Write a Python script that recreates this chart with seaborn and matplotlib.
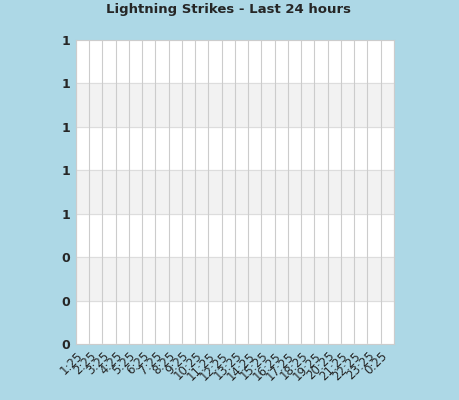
import numpy as np
import pandas as pd
import matplotlib
matplotlib.use('Agg')
import matplotlib.pyplot as plt
import seaborn as sns

# Hour labels and strike counts (no strikes in the last 24 hours)
hours = ['1:25', '2:25', '3:25', '4:25', '5:25', '6:25', '7:25', '8:25', '9:25', '10:25',
         '11:25', '12:25', '13:25', '14:25', '15:25', '16:25', '17:25', '18:25', '19:25',
         '20:25', '21:25', '22:25', '23:25', '0:25']
strikes = [0] * 24
y_ticks = [0, 0.2, 0.4, 0.6, 0.8, 1.0, 1.2, 1.4]

df = pd.DataFrame({'hour': hours, 'strikes': strikes})

sns.set_style('white')
plt.rcParams['font.family'] = ['DejaVu Sans']

fig = plt.figure(figsize=(4.6, 4.0), dpi=100, facecolor='#ADD8E6')
ax = fig.add_axes([76 / 460, 56 / 400, 318 / 460, 304 / 400])
ax.set_facecolor('white')

sns.barplot(data=df, x='hour', y='strikes', color='#1f77b4', ax=ax)

ax.set_xlim(-1, 23)
ax.set_ylim(0, 1.4)

# alternating bands
for i in range(7):
    if i % 2 == 1:
        ax.axhspan(y_ticks[i], y_ticks[i + 1], color='#f2f2f2', zorder=0)
for y in y_ticks:
    ax.axhline(y, color='#dddddd', lw=0.8, zorder=0.5)
for x in np.arange(-1, 24):
    ax.axvline(x, color='#cccccc', lw=0.8, zorder=0.5)

ax.set_yticks(y_ticks)
ax.set_yticklabels([f'{v:.0f}' for v in y_ticks], fontsize=9, fontweight='bold')
ax.set_xticks(np.arange(-1, 23))
ax.set_xticklabels(hours, rotation=45, ha='right', rotation_mode='anchor', fontsize=8.5)
ax.tick_params(length=0, pad=4)
ax.set_xlabel('')
ax.set_ylabel('')
for s in ax.spines.values():
    s.set_color('#cccccc')
    s.set_linewidth(0.8)

fig.text(229 / 460, 1 - 10 / 400, 'Lightning Strikes - Last 24 hours', ha='center', va='center',
         fontsize=9.5, fontweight='bold')

fig.savefig('out.png', dpi=100, facecolor=fig.get_facecolor())
